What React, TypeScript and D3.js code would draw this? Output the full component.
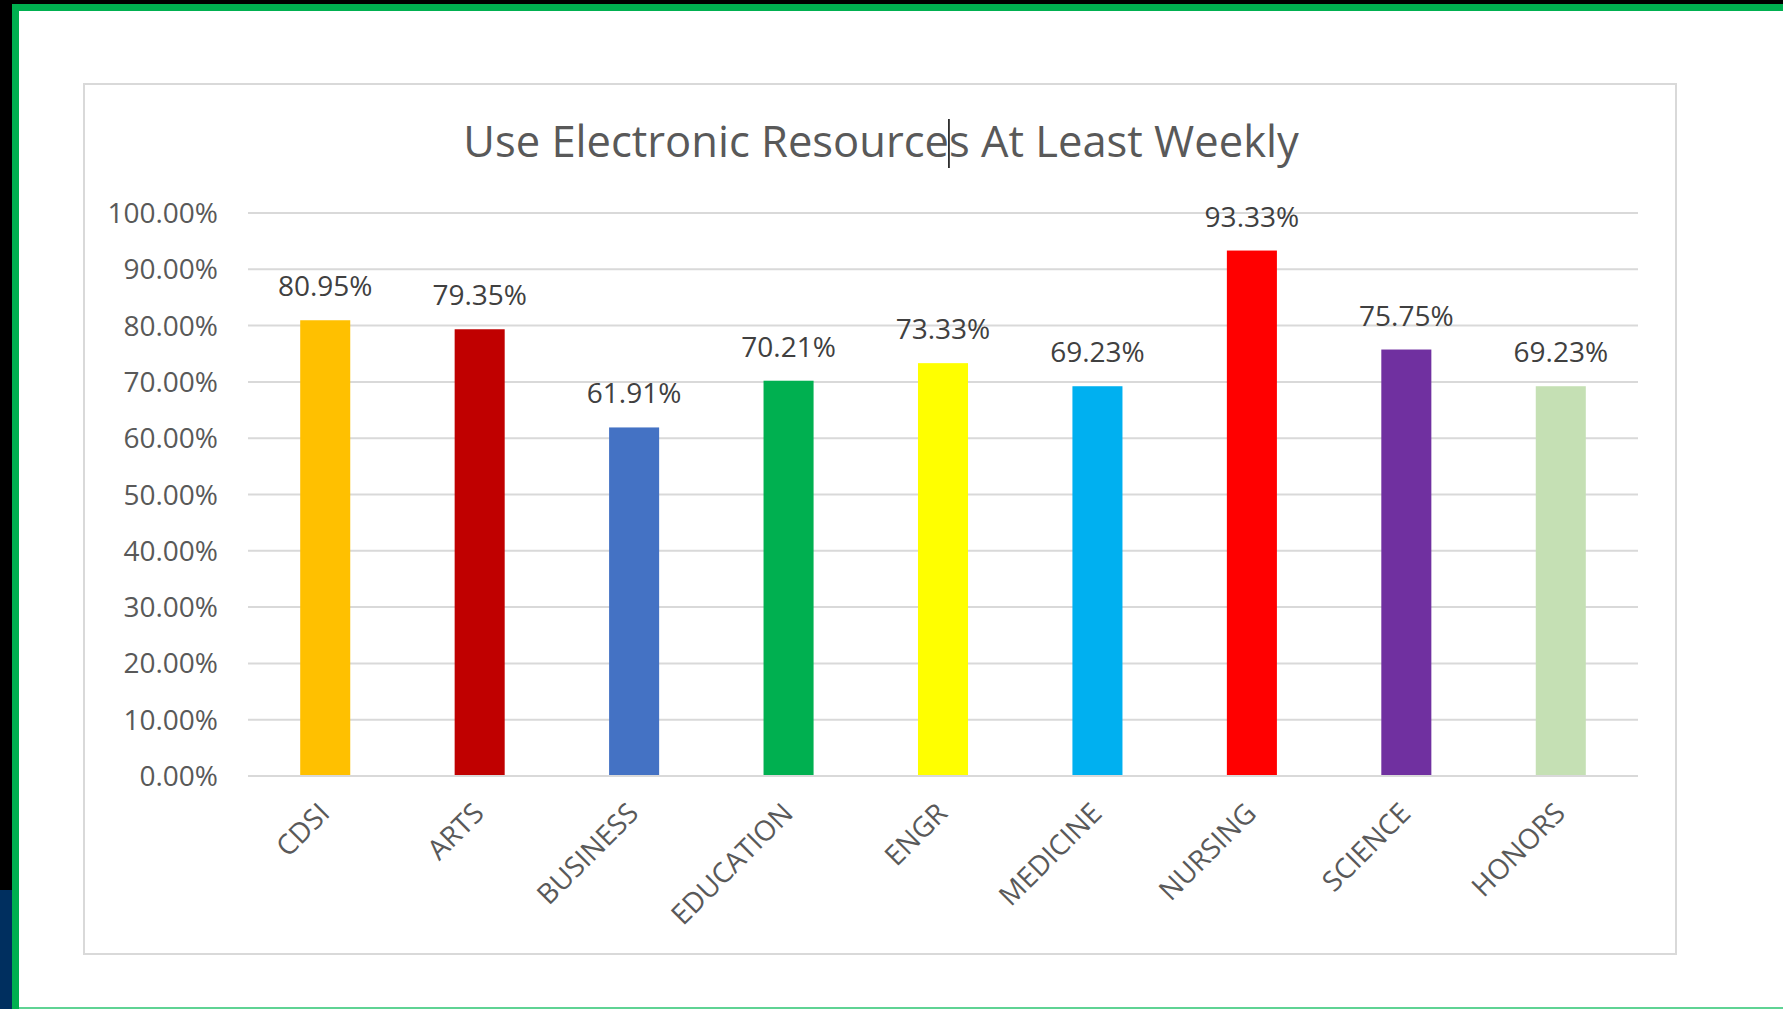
import React, { useRef, useEffect } from 'react';
import * as d3 from 'd3';

// chart data
const categories = ['CDSI', 'ARTS', 'BUSINESS', 'EDUCATION', 'ENGR', 'MEDICINE', 'NURSING', 'SCIENCE', 'HONORS'];
const values = [80.95, 79.35, 61.91, 70.21, 73.33, 69.23, 93.33, 75.75, 69.23];
const barColors = ['#FFC000', '#C00000', '#4472C4', '#00B050', '#FFFF00', '#00B0F0', '#FF0000', '#7030A0', '#C5E0B4'];
const yTicks = [0, 10, 20, 30, 40, 50, 60, 70, 80, 90, 100];
const title = 'Use Electronic Resources At Least Weekly';

const W = 1783;
const H = 1009;
const FONT = '"Open Sans", "Noto Sans", sans-serif';
const TEXT = '#595959';
const GRID = '#d9d9d9';

const App: React.FC = () => {
  const svgRef = useRef<SVGSVGElement>(null);

  useEffect(() => {
    if (!svgRef.current) return;
    const svg = d3.select(svgRef.current);
    svg.selectAll('*').remove();

    // slide background pieces
    svg.append('rect').attr('width', W).attr('height', H).attr('fill', '#ffffff');
    svg.append('rect').attr('x', 0).attr('y', 0).attr('width', W).attr('height', 4).attr('fill', '#000000');
    svg.append('rect').attr('x', 0).attr('y', 0).attr('width', 12).attr('height', 890).attr('fill', '#000000');
    svg.append('rect').attr('x', 0).attr('y', 890).attr('width', 12).attr('height', H - 890).attr('fill', '#002f5f');
    svg.append('rect').attr('x', 12).attr('y', 4).attr('width', W - 12).attr('height', 7).attr('fill', '#00B050');
    svg.append('rect').attr('x', 12).attr('y', 4).attr('width', 7).attr('height', H - 4).attr('fill', '#00B050');
    svg.append('rect').attr('x', 19).attr('y', 1007).attr('width', W - 19).attr('height', 2).attr('fill', '#5fd394');

    // chart frame
    svg.append('rect')
      .attr('x', 84).attr('y', 84)
      .attr('width', 1592).attr('height', 870)
      .attr('fill', 'white')
      .attr('stroke', GRID)
      .attr('stroke-width', 2);

    const left = 248, right = 1638, top = 213, bottom = 776;

    const x = d3.scaleBand<string>()
      .domain(categories)
      .range([left, right])
      .paddingInner(0.676)
      .paddingOuter(0.338);

    const y = d3.scaleLinear().domain([0, 100]).range([bottom, top]);

    // gridlines
    svg.append('g')
      .selectAll('line')
      .data(yTicks)
      .enter()
      .append('line')
      .attr('x1', left)
      .attr('x2', right)
      .attr('y1', d => y(d))
      .attr('y2', d => y(d))
      .attr('stroke', GRID)
      .attr('stroke-width', 2);

    // y tick labels
    svg.append('g')
      .selectAll('text')
      .data(yTicks)
      .enter()
      .append('text')
      .attr('x', 218)
      .attr('y', d => y(d))
      .attr('dy', '0.36em')
      .attr('text-anchor', 'end')
      .style('font-family', FONT)
      .style('font-size', '28px')
      .style('fill', TEXT)
      .text(d => d.toFixed(2) + '%');

    // bars
    svg.append('g')
      .selectAll('rect')
      .data(values)
      .enter()
      .append('rect')
      .attr('x', (d, i) => x(categories[i])!)
      .attr('y', d => y(d))
      .attr('width', x.bandwidth())
      .attr('height', d => bottom - y(d))
      .attr('fill', (d, i) => barColors[i]);

    // axis baseline over bars
    svg.append('line')
      .attr('x1', left).attr('x2', right)
      .attr('y1', bottom).attr('y2', bottom)
      .attr('stroke', GRID)
      .attr('stroke-width', 2);

    // value labels
    svg.append('g')
      .selectAll('text')
      .data(values)
      .enter()
      .append('text')
      .attr('x', (d, i) => x(categories[i])! + x.bandwidth() / 2)
      .attr('y', d => y(d) - 24)
      .attr('text-anchor', 'middle')
      .style('font-family', FONT)
      .style('font-size', '28px')
      .style('fill', '#404040')
      .text(d => d.toFixed(2) + '%');

    // rotated category labels
    svg.append('g')
      .selectAll('text')
      .data(categories)
      .enter()
      .append('text')
      .attr('transform', d => `translate(${x(d)! + x.bandwidth() / 2 + 6}, 815) rotate(-45)`)
      .attr('text-anchor', 'end')
      .style('font-family', FONT)
      .style('font-size', '28px')
      .style('fill', TEXT)
      .text(d => d);

    // title
    const titleText = svg.append('text')
      .attr('x', 881)
      .attr('y', 157)
      .attr('text-anchor', 'middle')
      .style('font-family', FONT)
      .style('font-size', '43.5px')
      .style('fill', TEXT)
      .text(title);

    // text cursor visible inside the title ("Resource|s")
    const node = titleText.node() as SVGTextElement;
    const idx = title.indexOf('Resources') + 8;
    const cx = node.getStartPositionOfChar(idx).x;
    svg.append('line')
      .attr('x1', cx).attr('x2', cx)
      .attr('y1', 119).attr('y2', 168)
      .attr('stroke', '#000000')
      .attr('stroke-width', 1.5);
  }, []);

  return (
    <div style={{ position: 'absolute', left: 0, top: 0 }}>
      <svg ref={svgRef} width={W} height={H} style={{ display: 'block' }} />
    </div>
  );
};

export default App;
